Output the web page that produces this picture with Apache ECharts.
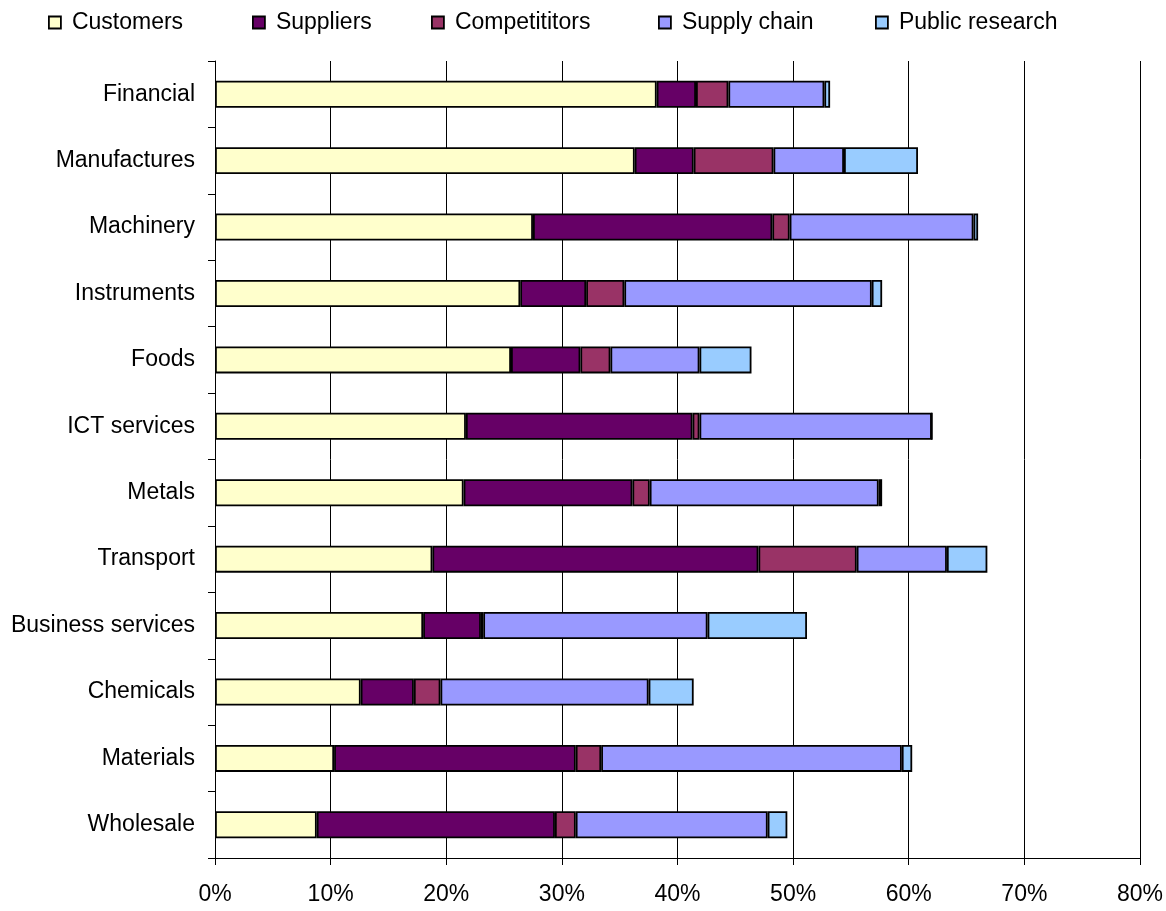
<!DOCTYPE html>
<html>
<head>
    <meta charset="utf-8">
    <title>Sources of information by sector</title>
    <script src="https://cdn.jsdelivr.net/npm/echarts@6/dist/echarts.min.js"></script>
    <style>
        html, body {
            margin: 0;
            padding: 0;
            background: #fff;
        }

        #chartmain {
            width: 1166px;
            height: 911px;
        }
    </style>
</head>
<body>
<div id="chartmain"></div>
<script type="text/javascript">
    // sectors, top to bottom
    var sectors = ['Financial', 'Manufactures', 'Machinery', 'Instruments', 'Foods', 'ICT services',
        'Metals', 'Transport', 'Business services', 'Chemicals', 'Materials', 'Wholesale'];

    // share of firms (%) per source
    var customers = [38.2, 36.3, 27.5, 26.4, 25.6, 21.7, 21.5, 18.8, 18.0, 12.6, 10.3, 8.8];
    var suppliers = [3.4, 5.1, 20.7, 5.7, 6.0, 19.6, 14.6, 28.2, 5.0, 4.6, 20.9, 20.6];
    var competitors = [2.8, 6.9, 1.5, 3.3, 2.6, 0.6, 1.5, 8.5, 0.2, 2.3, 2.2, 1.8];
    var supplyChain = [8.3, 6.1, 15.9, 21.4, 7.7, 20.1, 19.8, 7.8, 19.4, 18.0, 26.0, 16.6];
    var publicResearch = [0.5, 6.4, 0.4, 0.9, 4.5, 0, 0.3, 3.5, 8.6, 3.9, 0.9, 1.7];

    // legend text kept as in the original chart
    var seriesNames = ['Customers', 'Suppliers', 'Competititors', 'Supply chain', 'Public research'];
    var seriesData = [customers, suppliers, competitors, supplyChain, publicResearch];
    var colorList = ['#FFFFCC', '#660066', '#993366', '#9999FF', '#99CCFF'];
    var legendLeft = [43, 247, 426, 653, 870];

    var font = 'Liberation Sans, Arial, sans-serif';

    var series = [];
    var legends = [];
    for (var i = 0; i < seriesNames.length; i++) {
        series.push({
            name: seriesNames[i],
            type: 'bar',
            stack: 'total',
            barWidth: 27,
            itemStyle: {
                color: colorList[i],
                borderColor: '#000',
                borderWidth: 1.8
            },
            emphasis: {disabled: true},
            data: seriesData[i]
        });
        // one legend per item so each sits where the original puts it
        legends.push({
            data: [seriesNames[i]],
            left: legendLeft[i],
            top: 6,
            icon: 'rect',
            itemWidth: 12,
            itemHeight: 12,
            itemStyle: {borderColor: '#000', borderWidth: 1.8},
            textStyle: {fontSize: 23, color: '#000', fontFamily: font, padding: [0, 0, 0, 6]}
        });
    }

    var option = {
        animation: false,
        textStyle: {fontFamily: font, color: '#000'},
        legend: legends,
        grid: {
            left: 215,
            right: 26,
            top: 61,
            bottom: 53,
            containLabel: false
        },
        xAxis: {
            type: 'value',
            min: 0,
            max: 80,
            interval: 10,
            axisLine: {show: true, lineStyle: {color: '#000', width: 1}},
            axisTick: {show: true, length: 7, lineStyle: {color: '#000'}},
            splitLine: {show: true, lineStyle: {color: '#000', width: 1}},
            axisLabel: {
                formatter: '{value}%',
                fontSize: 23,
                color: '#000',
                fontFamily: font,
                margin: 25
            }
        },
        yAxis: {
            type: 'category',
            inverse: true,
            data: sectors,
            axisLine: {show: true, lineStyle: {color: '#000', width: 1}},
            axisTick: {show: true, length: 7, lineStyle: {color: '#000'}},
            splitLine: {show: false},
            axisLabel: {
                fontSize: 23,
                color: '#000',
                fontFamily: font,
                margin: 20
            }
        },
        series: series
    };

    var myChart = echarts.init(document.getElementById('chartmain'));
    myChart.setOption(option);
</script>
</body>
</html>
